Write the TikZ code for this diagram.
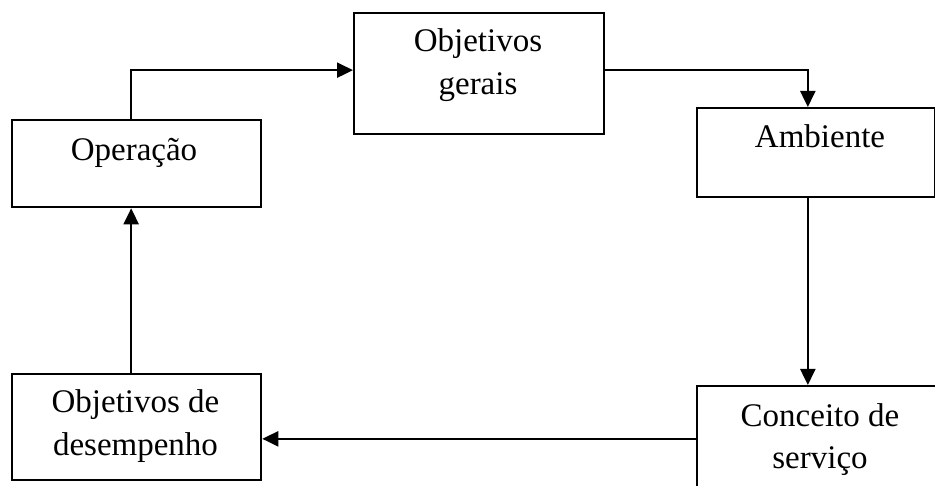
\documentclass[tikz,border=0pt]{standalone}
\usepackage{fontspec}
\setmainfont{Liberation Serif}
\usetikzlibrary{arrows.meta,calc}

\tikzset{
  box/.style={draw, line width=2.3pt, rectangle, inner sep=0pt, anchor=north west},
  label txt/.style={inner sep=0pt, anchor=base, font=\fontsize{33}{42.5}\selectfont},
  arr/.style={line width=2.3pt, -{Triangle[length=16pt,width=15pt]}},
}

\begin{document}
\begin{tikzpicture}[x=1pt, y=-1pt]
  \clip (0,0) rectangle (935,486);

  % boxes of the cycle
  \node[box, minimum width=249pt, minimum height=87pt]  (opr)    at (11,119)  {};
  \node[box, minimum width=250pt, minimum height=121pt] (gerais) at (353,12)  {};
  \node[box, minimum width=238pt, minimum height=89pt]  (amb)    at (696,107) {};
  \node[box, minimum width=260pt, minimum height=140pt] (conc)   at (696,385) {};
  \node[box, minimum width=249pt, minimum height=106pt] (desemp) at (11,373)  {};

  % box texts, set near the top of each box
  \node[label txt] (t-opr)    at (134,160.7) {Operação};
  \node[label txt] (t-gerais) at (478,51.7)  {\begin{tabular}[t]{@{}c@{}}Objetivos\\gerais\end{tabular}};
  \node[label txt] (t-amb)    at (820,148)   {Ambiente};
  \node[label txt] (t-conc)   at (820,426)   {\begin{tabular}[t]{@{}c@{}}Conceito de\\serviço\end{tabular}};
  \node[label txt] (t-desemp) at (135.5,413) {\begin{tabular}[t]{@{}c@{}}Objetivos de\\desempenho\end{tabular}};

  % connectors
  \coordinate (d-in) at ($(desemp.east)+(0,11.7)$);
  \draw[arr] ([xshift=-5.5pt]opr.north) |- ([yshift=3.5pt]gerais.west);
  \draw[arr] ([yshift=3.5pt]gerais.east) -| ([xshift=-8.3pt]amb.north);
  \draw[arr] ([xshift=-8.3pt]amb.south) -- ([xshift=-8.3pt]amb.south |- conc.north);
  \draw[arr] (conc.west |- d-in) -- (d-in);
  \draw[arr] ([xshift=-5.5pt]desemp.north) -- ([xshift=-5.5pt]opr.south);
\end{tikzpicture}
\end{document}
